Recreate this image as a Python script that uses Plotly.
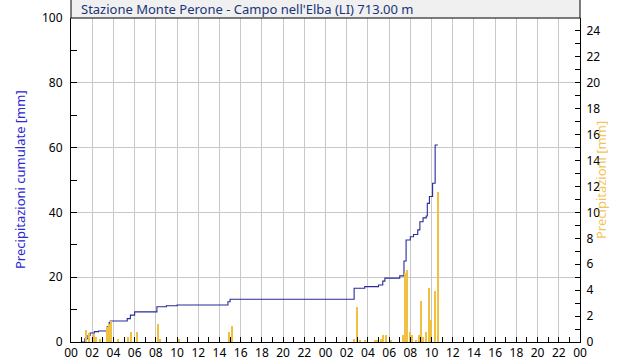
import plotly.graph_objects as go

# Cumulative precipitation (step line), hours from start of day 1
cum_hours = [1.0, 1.3, 1.6, 1.8, 2.2, 2.6, 3.4, 3.6, 3.7, 5.3, 5.6, 6.0, 8.0, 8.1, 9.0, 10.0,
             14.8, 15.0, 26.6, 26.7, 27.7, 29.0, 29.4, 29.6, 31.0, 31.4, 31.6, 32.0, 32.3,
             32.7, 32.9, 33.2, 33.5, 33.6, 33.8, 34.1, 34.34, 34.6]
cum_values = [0.0, 1.0, 2.0, 2.8, 3.2, 3.4, 4.7, 6.0, 6.5, 7.2, 8.3, 9.3, 9.3, 10.9, 11.2, 11.4,
              12.4, 13.2, 13.2, 16.6, 17.1, 17.6, 18.8, 19.7, 20.4, 25.0, 31.5, 32.5, 33.2,
              34.6, 37.1, 38.3, 38.9, 42.8, 44.9, 49.0, 60.8, 60.8]

# Precipitation bars
bar_hours = [1.4, 1.7, 2.2, 2.4, 2.7, 3.4, 3.6, 3.8, 4.4, 5.4, 5.7, 6.2, 8.2, 8.4, 10.2,
             14.9, 15.2, 26.7, 27.0, 27.3, 27.7, 28.7, 28.9, 29.2, 29.4, 29.7, 30.2, 31.3,
             31.5, 31.7, 32.0, 32.2, 32.5, 32.8, 33.0, 33.2, 33.5, 33.8, 34.0, 34.3, 34.6]
bar_values = [0.93, 0.7, 0.6, 0.4, 0.2, 1.18, 1.4, 1.6, 0.2, 0.4, 0.8, 0.8, 1.4, 0.2, 0.2,
              0.8, 1.2, 0.25, 2.73, 0.1, 0.1, 0.1, 0.1, 0.2, 0.55, 0.55, 0.1, 0.55,
              5.3, 5.57, 0.8, 0.55, 0.1, 0.55, 3.17, 0.35, 0.8, 4.2, 1.7, 3.95, 11.6]

tick_hours = list(range(0, 49, 2))
tick_labels = [f"{h % 24:02d}" for h in tick_hours]

title_text = "Stazione Monte Perone - Campo nell'Elba (LI) 713.00 m"
left_title = "Precipitazioni cumulate [mm]"
right_title = "Precipitazioni [mm]"

FONT = "Noto Sans"

fig = go.Figure()
fig.add_trace(go.Bar(x=bar_hours, y=bar_values, yaxis="y2", width=0.12,
                     marker=dict(color="#f0c040", line=dict(width=0)), showlegend=False))
fig.add_trace(go.Scatter(x=cum_hours, y=cum_values, mode="lines", line_shape="hv",
                         line=dict(color="#2a2a9c", width=1.1), showlegend=False))

fig.update_layout(
    width=640, height=361,
    margin=dict(l=71, r=60, t=18, b=19),
    paper_bgcolor="white", plot_bgcolor="white",
    font=dict(family=FONT, size=12, color="black"),
    bargap=0,
    xaxis=dict(range=[0, 48], tickvals=tick_hours, ticktext=tick_labels, automargin=False,
               ticks="inside", ticklen=5, tickcolor="black",
               minor=dict(dtick=1, tick0=0, ticks="inside", ticklen=5, tickcolor="black", showgrid=False),
               showgrid=True, gridcolor="#c8c8c8", gridwidth=1,
               showline=True, linecolor="black", linewidth=1, zeroline=False,
               tickfont=dict(size=12)),
    yaxis=dict(range=[0, 100], dtick=20, ticks="inside", ticklen=6, tickcolor="black", automargin=False,
               minor=dict(dtick=10, ticks="inside", ticklen=6, tickcolor="black", showgrid=False),
               showgrid=True, gridcolor="#c8c8c8", gridwidth=1, ticklabelstandoff=5,
               showline=True, linecolor="black", linewidth=1, zeroline=False,
               tickfont=dict(size=12)),
    yaxis2=dict(range=[0, 25], dtick=2, overlaying="y", side="right", automargin=False,
                ticks="inside", ticklen=5, tickcolor="black",
                minor=dict(dtick=1, ticks="inside", ticklen=5, tickcolor="black", showgrid=False),
                showgrid=False, showline=True, linecolor="black", linewidth=1, zeroline=False,
                ticklabelstandoff=3, tickfont=dict(size=12)),
)

# Title box
fig.add_shape(type="rect", xref="paper", yref="paper", x0=0, x1=1, y0=1, y1=1 + 20 / 324,
              fillcolor="#f0f0f0", line=dict(color="black", width=1), layer="above")
fig.add_annotation(xref="paper", yref="paper", x=8 / 509, y=1 + 9 / 324, xanchor="left", yanchor="middle",
                   text=title_text, showarrow=False,
                   font=dict(family=FONT, size=13, color="#1a3478"))
fig.add_annotation(xref="paper", yref="paper", x=-51 / 509, y=0.5, xanchor="center", yanchor="middle",
                   text=left_title, textangle=-90, showarrow=False,
                   font=dict(family=FONT, size=13, color="#2a2ad0"))
fig.add_annotation(xref="paper", yref="paper", x=1 + 21 / 509, y=0.5, xanchor="center", yanchor="middle",
                   text=right_title, textangle=-90, showarrow=False,
                   font=dict(family=FONT, size=13, color="rgba(240,180,40,0.8)"))

fig.write_html("out.html", config={"displayModeBar": False},
               post_script="document.documentElement.style.margin='0';document.body.style.margin='0';"
                           "document.body.style.overflow='hidden';")
